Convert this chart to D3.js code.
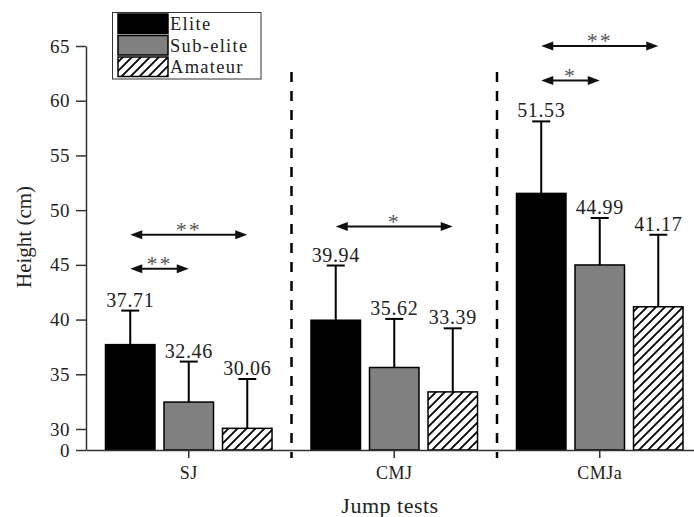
<!DOCTYPE html>
<html><head><meta charset="utf-8">
<script src="https://cdn.jsdelivr.net/npm/d3@7"></script>
<style>
body{margin:0;background:#fff;}
svg text{font-family:"Liberation Serif","Times New Roman",serif;}
</style></head>
<body><svg id="c" width="694" height="517"></svg>
<script>
const tests = ["SJ","CMJ","CMJa"];
const groups = ["Elite","Sub-elite","Amateur"];
const elite = [37.71, 39.94, 51.53];
const subElite = [32.46, 35.62, 44.99];
const amateur = [30.06, 33.39, 41.17];
const eliteUpper = [40.82, 44.94, 58.11];
const subEliteUpper = [36.16, 40.06, 49.28];
const amateurUpper = [34.57, 39.2, 47.75];
const yTicks = [0,30,35,40,45,50,55,60,65];
const comparisons = [
  {test:"SJ", from:"Elite", to:"Amateur", label:"**", level:47.75},
  {test:"SJ", from:"Elite", to:"Sub-elite", label:"**", level:44.64},
  {test:"CMJ", from:"Elite", to:"Amateur", label:"*", level:48.5},
  {test:"CMJa", from:"Elite", to:"Amateur", label:"**", level:65.0},
  {test:"CMJa", from:"Elite", to:"Sub-elite", label:"*", level:61.84}
];

const FONT = "Liberation Serif, Times New Roman, serif";
const values = [elite, subElite, amateur];
const uppers = [eliteUpper, subEliteUpper, amateurUpper];
const data = [];
tests.forEach((t,i)=>groups.forEach((g,j)=>data.push({test:t, group:g, value:values[j][i], upper:uppers[j][i]})));

const svg = d3.select("#c");
const left = 86, right = 702.5, base = 450;
const x0 = d3.scaleBand().domain(tests).range([left, right]).paddingInner(0).paddingOuter(0);
const x1 = d3.scaleBand().domain(groups).range([0, x0.bandwidth()]).paddingInner(0.154).paddingOuter(0.333);
const y = d3.scaleLinear().domain([0,30,65]).range([base, 429, 46]);

const defs = svg.append("defs");
const pat = defs.append("pattern").attr("id","hatch").attr("patternUnits","userSpaceOnUse")
  .attr("width",9).attr("height",9);
pat.append("rect").attr("width",9).attr("height",9).attr("fill","#fff");
pat.append("path").attr("d","M-2,2 L2,-2 M0,9 L9,0 M7,11 L11,7").attr("stroke","#000").attr("stroke-width",1.8);

const fills = {"Elite":"#000","Sub-elite":"#808080","Amateur":"url(#hatch)"};

// separators
tests.slice(1).forEach(t=>{
  const xs = x0(t);
  svg.append("line").attr("x1",xs).attr("x2",xs).attr("y1",72).attr("y2",458)
    .attr("stroke","#000").attr("stroke-width",2.5).attr("stroke-dasharray","10,9");
});

// error bars
const eb = svg.append("g");
data.forEach(d=>{
  const cx = x0(d.test)+x1(d.group)+x1.bandwidth()/2;
  eb.append("line").attr("x1",cx).attr("x2",cx).attr("y1",y(d.value)).attr("y2",y(d.upper)).attr("stroke","#000").attr("stroke-width",2);
  eb.append("line").attr("x1",cx-9).attr("x2",cx+9).attr("y1",y(d.upper)).attr("y2",y(d.upper)).attr("stroke","#000").attr("stroke-width",2);
  svg.append("text").attr("x",cx).attr("y",y(d.upper)-4).attr("text-anchor","middle")
    .attr("font-family",FONT).attr("font-size",20).attr("fill","#222").attr("letter-spacing",0.6).text(d.value.toFixed(2));
});

// bars
svg.append("g").selectAll("rect").data(data).join("rect")
  .attr("x",d=>x0(d.test)+x1(d.group))
  .attr("width",x1.bandwidth())
  .attr("y",d=>y(d.value))
  .attr("height",d=>y(0)-y(d.value))
  .attr("fill",d=>fills[d.group])
  .attr("stroke","#000").attr("stroke-width",1.5);

// axes
const ya = svg.append("g").attr("transform",`translate(${left},0)`)
  .call(d3.axisLeft(y).tickValues(yTicks).tickSize(10).tickSizeOuter(0).tickPadding(6).tickFormat(d3.format("d")));
ya.attr("font-family",FONT);
ya.selectAll("text").attr("font-size",19).attr("fill","#222").attr("letter-spacing",0.5);
ya.selectAll("line,path").attr("stroke","#333").attr("stroke-width",1.5);

const xa = svg.append("g").attr("transform",`translate(0,${base})`)
  .call(d3.axisBottom(x0).tickSize(8).tickSizeOuter(0).tickPadding(8));
xa.attr("font-family",FONT);
xa.selectAll("text").attr("font-size",18).attr("fill","#222").attr("letter-spacing",0.5);
xa.selectAll("line,path").attr("stroke","#333").attr("stroke-width",1.5);

svg.append("text").attr("x",390).attr("y",513).attr("text-anchor","middle").attr("font-family",FONT)
  .attr("font-size",22).attr("fill","#222").attr("letter-spacing",0.5).text("Jump tests");
svg.append("text").attr("transform","translate(31,237) rotate(-90)").attr("text-anchor","middle").attr("font-family",FONT)
  .attr("font-size",21).attr("fill","#222").text("Height (cm)");

// comparisons
const cg = svg.append("g");
comparisons.forEach(c=>{
  const xa_ = x0(c.test)+x1(c.from)+x1.bandwidth()/2;
  const xb_ = x0(c.test)+x1(c.to)+x1.bandwidth()/2;
  const yy = y(c.level);
  const h = 12, w = 4.5;
  cg.append("line").attr("x1",xa_+h-2).attr("x2",xb_-h+2).attr("y1",yy).attr("y2",yy).attr("stroke","#111").attr("stroke-width",2);
  cg.append("path").attr("d",`M${xa_},${yy} L${xa_+h},${yy-w} L${xa_+h},${yy+w} Z`).attr("fill","#111");
  cg.append("path").attr("d",`M${xb_},${yy} L${xb_-h},${yy-w} L${xb_-h},${yy+w} Z`).attr("fill","#111");
  cg.append("text").attr("x",(xa_+xb_)/2).attr("y",yy+2).attr("text-anchor","middle").attr("font-family",FONT)
    .attr("font-size",22).attr("fill","#555").attr("letter-spacing",2).text(c.label);
});

// legend
const lg = svg.append("g");
lg.append("rect").attr("x",112.5).attr("y",12.5).attr("width",148.5).attr("height",66.5).attr("fill","#fff").attr("stroke","#333").attr("stroke-width",1);
groups.forEach((g,i)=>{
  const yy = 14 + i*21.5;
  lg.append("rect").attr("x",118).attr("y",yy).attr("width",50).attr("height",19.5).attr("fill",fills[g]).attr("stroke","#000").attr("stroke-width",1.5);
  lg.append("text").attr("x",170).attr("y",yy+16).attr("font-family",FONT).attr("font-size",18.5).attr("fill","#222").attr("letter-spacing",1.3).text(g);
});
</script></body></html>
